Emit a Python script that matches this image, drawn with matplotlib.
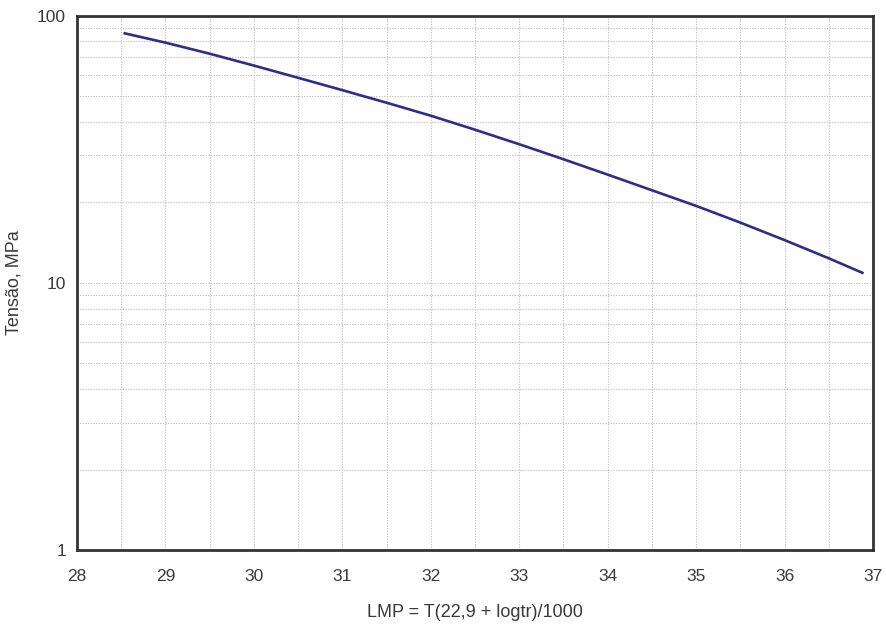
import numpy as np
import matplotlib.pyplot as plt
from matplotlib.ticker import FixedLocator, NullFormatter, MultipleLocator

plt.rcParams['font.family'] = ['Liberation Sans', 'DejaVu Sans']

# curve (LMP, stress in MPa)
lmp = [28.54, 29.0, 29.5, 30.0, 30.5, 31.0, 31.5, 32.0, 32.5, 33.0,
       33.5, 34.0, 34.5, 35.0, 35.5, 36.0, 36.5, 36.88]
tensao = [85.8, 79.2, 72.0, 65.0, 58.5, 52.6, 47.2, 42.2, 37.4, 33.0,
          29.0, 25.4, 22.2, 19.4, 16.8, 14.45, 12.35, 10.9]

x_ticks = [28, 29, 30, 31, 32, 33, 34, 35, 36, 37]
y_ticks = [1, 10, 100]
y_tick_labels = ['1', '10', '100']

fig = plt.figure(figsize=(8.86, 6.28), dpi=100)
ax = fig.add_axes([0.0869, 0.1242, 0.8984, 0.8510])

ax.plot(lmp, tensao, color='#2e2e8a', lw=1.9)

ax.set_yscale('log')
ax.set_xlim(28, 37)
ax.set_ylim(1, 100)
ax.set_xticks(x_ticks)
ax.xaxis.set_minor_locator(MultipleLocator(0.5))
ax.set_yticks(y_ticks)
ax.set_yticklabels(y_tick_labels)
minor_y = [m * d for d in (1, 10) for m in range(2, 10)]
ax.yaxis.set_minor_locator(FixedLocator(minor_y))
ax.yaxis.set_minor_formatter(NullFormatter())

ax.grid(True, which='both', color='#c4c4c4', linestyle=(0, (1.2, 1.2)), lw=0.8)
ax.tick_params(which='both', length=0)
ax.tick_params(axis='x', pad=14, labelsize=12.5, colors='#3a3a3a')
ax.tick_params(axis='y', pad=8, labelsize=12.5, colors='#3a3a3a')

for s in ax.spines.values():
    s.set_linewidth(2.0)
    s.set_color('#333333')

ax.set_xlabel('LMP = T(22,9 + logtr)/1000', fontsize=13, color='#3a3a3a', labelpad=14)
ax.set_ylabel('Tensão, MPa', fontsize=13, color='#3a3a3a', labelpad=10)

fig.savefig('out.png', dpi=100)
